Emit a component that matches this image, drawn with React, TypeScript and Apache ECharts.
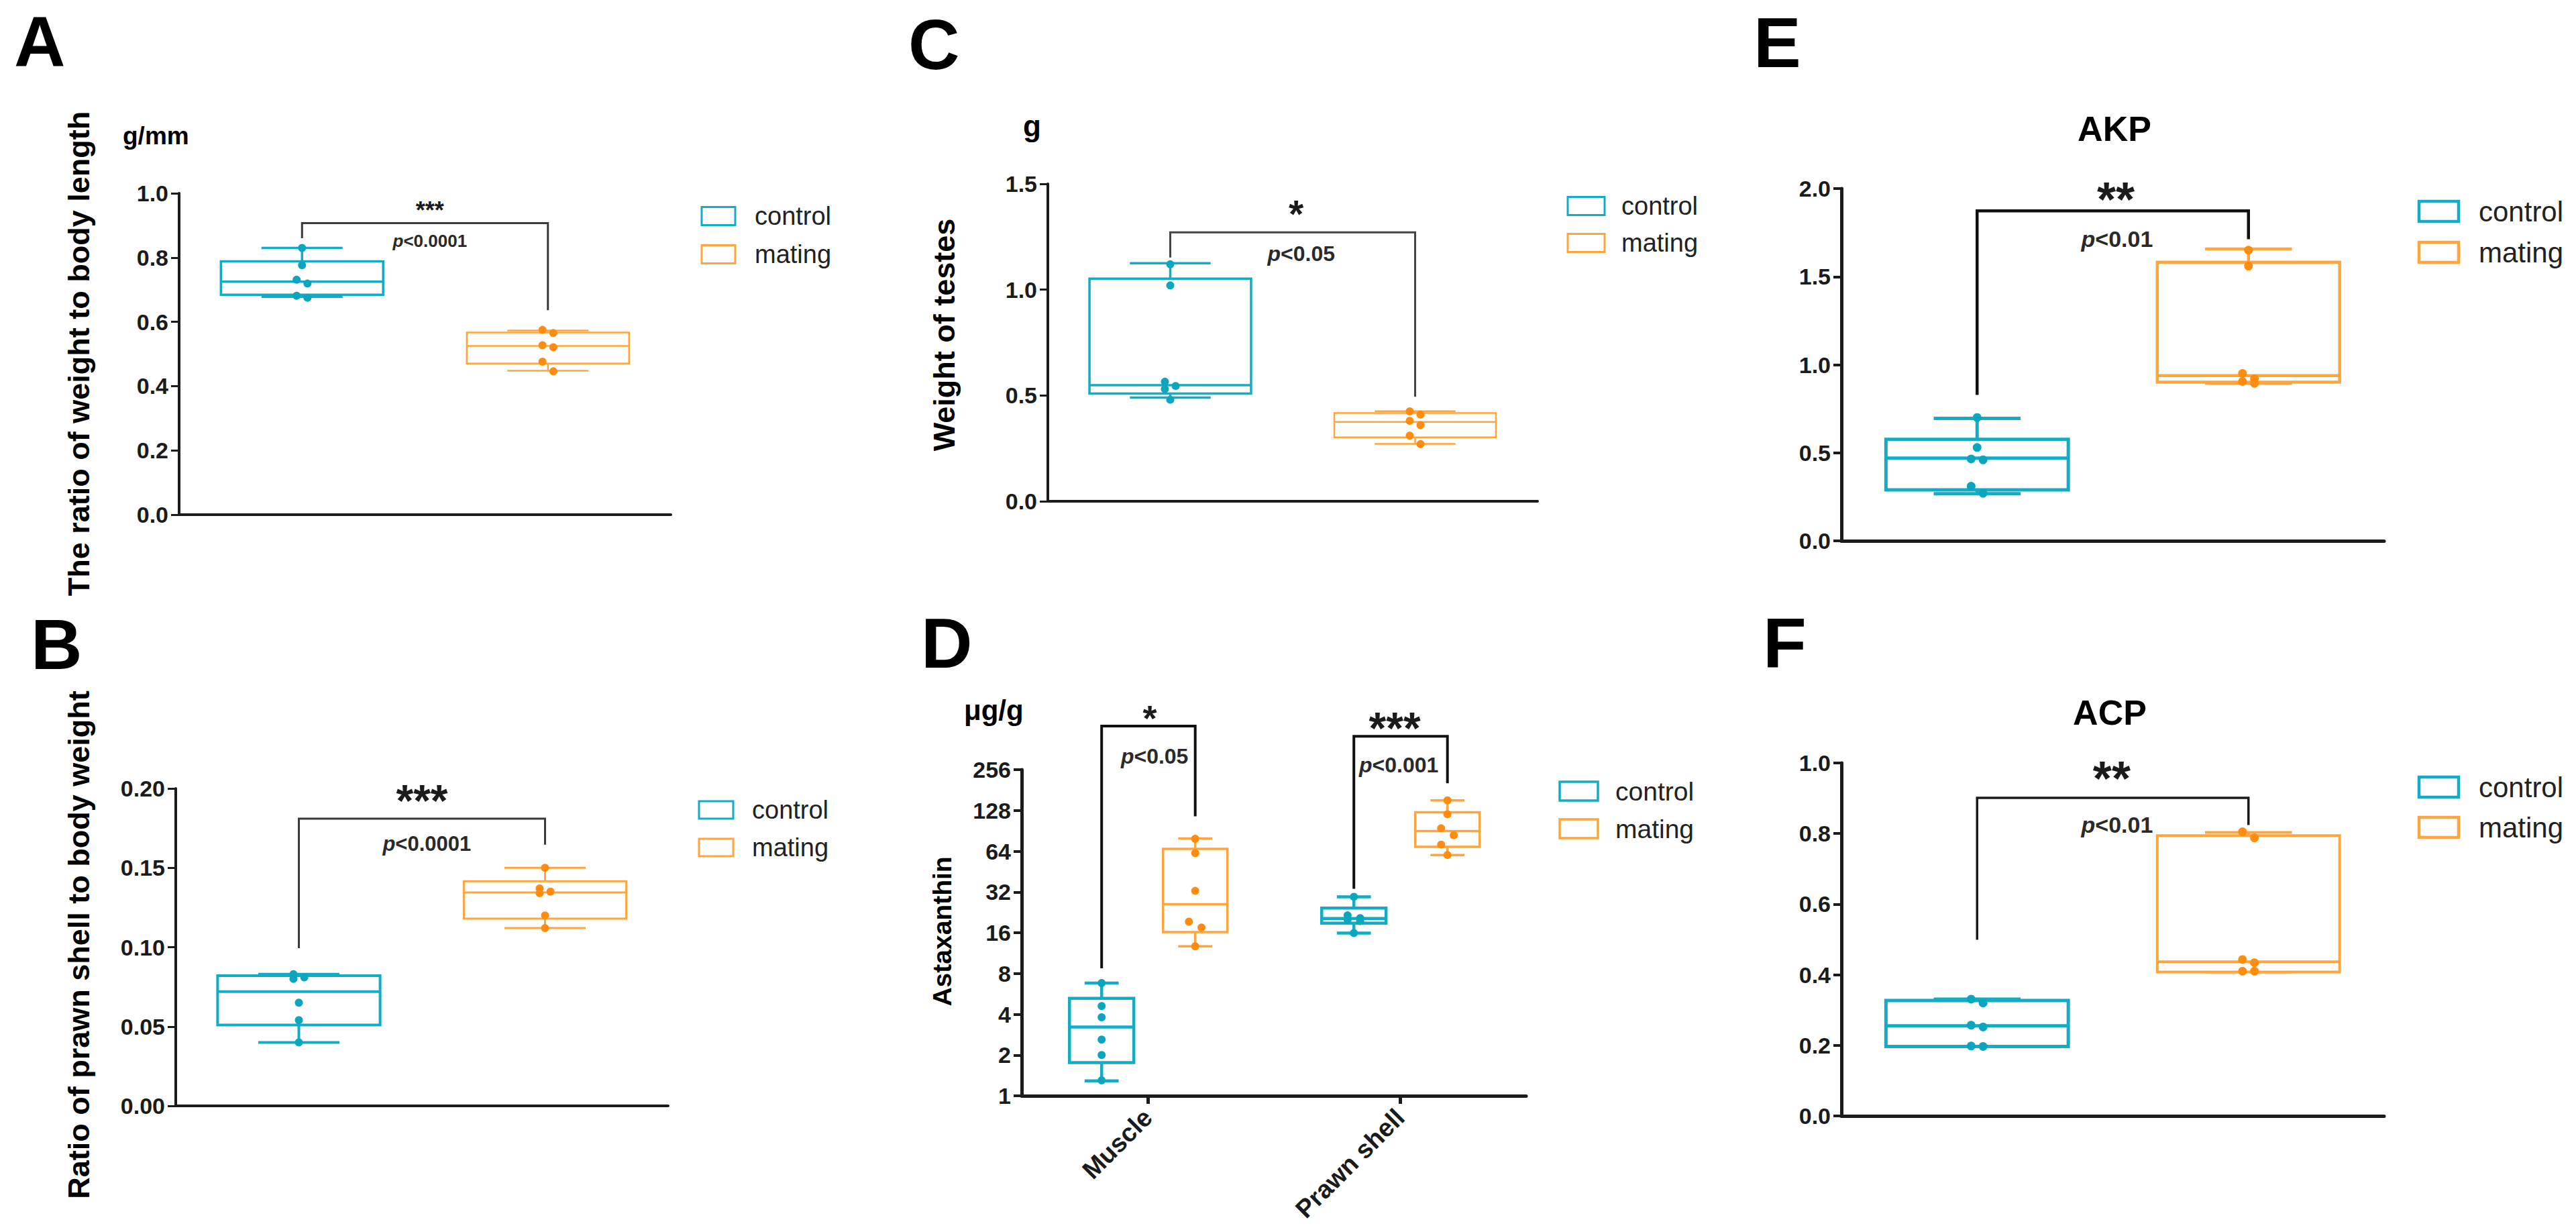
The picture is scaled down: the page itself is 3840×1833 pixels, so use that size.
import React, { useEffect, useRef } from "react";
import * as echarts from "echarts";

// ---------------- data ----------------
const GROUPS = ["control", "mating"];
const TISSUES = ["Muscle", "Prawn shell"];

// box stats are [min, Q1, median, Q3, max]
const A_CONTROL = [0.83, 0.776, 0.731, 0.719, 0.681, 0.675];
const A_MATING = [0.575, 0.565, 0.527, 0.521, 0.476, 0.446];
const A_CONTROL_BOX = [0.678, 0.684, 0.725, 0.788, 0.83];
const A_MATING_BOX = [0.448, 0.47, 0.525, 0.567, 0.573];

const B_CONTROL = [0.083, 0.081, 0.08, 0.065, 0.054, 0.04];
const B_MATING = [0.15, 0.137, 0.135, 0.134, 0.12, 0.112];
const B_CONTROL_BOX = [0.04, 0.051, 0.072, 0.082, 0.083];
const B_MATING_BOX = [0.112, 0.118, 0.1345, 0.1415, 0.15];

const C_CONTROL = [1.12, 1.02, 0.565, 0.545, 0.53, 0.48];
const C_MATING = [0.425, 0.41, 0.38, 0.36, 0.31, 0.27];
const C_CONTROL_BOX = [0.49, 0.509, 0.549, 1.052, 1.125];
const C_MATING_BOX = [0.271, 0.302, 0.375, 0.417, 0.426];

const D_CONTROL_MUSCLE = [6.8, 4.6, 3.8, 2.6, 2.0, 1.3];
const D_CONTROL_SHELL = [29.5, 21.5, 20.5, 20.0, 19.5, 15.9];
const D_MATING_MUSCLE = [79, 62, 32.6, 19.3, 17.5, 12.7];
const D_MATING_SHELL = [152, 120, 94.5, 84, 71.6, 60];
const D_CONTROL_MUSCLE_BOX = [1.29, 1.76, 3.22, 5.25, 6.79];
const D_CONTROL_SHELL_BOX = [15.9, 18.8, 20.4, 24.3, 29.5];
const D_MATING_MUSCLE_BOX = [12.7, 16.2, 26, 66.7, 79.5];
const D_MATING_SHELL_BOX = [60, 69, 90, 124, 152];

const E_CONTROL = [0.7, 0.53, 0.465, 0.46, 0.31, 0.27];
const E_MATING = [1.65, 1.56, 0.95, 0.92, 0.905, 0.894];
const E_CONTROL_BOX = [0.268, 0.29, 0.47, 0.576, 0.695];
const E_MATING_BOX = [0.894, 0.901, 0.938, 1.582, 1.657];

const F_CONTROL = [0.331, 0.32, 0.257, 0.252, 0.198, 0.197];
const F_MATING = [0.805, 0.788, 0.443, 0.434, 0.41, 0.41];
const F_CONTROL_BOX = [0.197, 0.197, 0.255, 0.327, 0.331];
const F_MATING_BOX = [0.408, 0.408, 0.437, 0.794, 0.803];

// significance brackets: [left end, top, right end]
const A_BRACKET = [0.86, 0.907, 0.636];
const B_BRACKET = [0.0994, 0.181, 0.1646];
const C_BRACKET = [1.152, 1.271, 0.494];
const D_BRACKET_MUSCLE = [8.74, 538, 116];
const D_BRACKET_SHELL = [33.8, 452, 203];
const E_BRACKET = [0.829, 1.873, 1.712];
const F_BRACKET = [0.499, 0.901, 0.824];

// significance labels: [stars, p text, stars y, p y]
const A_SIG = ["***", "<0.0001", 0.964, 0.851];
const B_SIG = ["***", "<0.0001", 0.199, 0.165];
const C_SIG = ["*", "<0.05", 1.4, 1.17];
const D_SIG_MUSCLE = ["*", "<0.05", 713, 320];
const D_SIG_SHELL = ["***", "<0.001", 620, 278];
const E_SIG = ["**", "<0.01", 2.004, 1.714];
const F_SIG = ["**", "<0.01", 0.988, 0.826];

// ---------------- styles ----------------
const FONT = "'Liberation Sans', Arial, Helvetica, sans-serif";
const INK = "#1b1b1b";
const TEAL = "#13ACC6";
const TEAL_DOT = "#0AA6C0";
const ORANGE = "#FFA53D";
const ORANGE_DOT = "#FF8B0F";
const BOX_COLORS = [TEAL, ORANGE];
const DOT_COLORS = [TEAL_DOT, ORANGE_DOT];

type Group = { x: number; g: number; box: number[]; pts: number[] };
type Sig = { x: number; y: number; text: string; kind: "star" | "p"; size: number };
type Panel = {
  grid: number[];
  yMin: number;
  yMax: number;
  yStep?: number;
  log?: boolean;
  decimals: number;
  cats: string[];
  showCats: boolean;
  groups: Group[];
  boxW: number;
  capW: number;
  lw: number[];
  axisW: number;
  dot: number;
  jitter: number;
  brackets: { xl: number; xr: number; v: number[] }[];
  bracketColor: string;
  bracketW: number;
  sigs: Sig[];
};

function sigList(x: number, sig: any[], starSize: number, pSize: number, px?: number): Sig[] {
  return [
    { x, y: sig[2], text: sig[0], kind: "star", size: starSize },
    { x: px === undefined ? x : px, y: sig[3], text: sig[1], kind: "p", size: pSize },
  ];
}

const PANELS: Panel[] = [
  {
    grid: [267, 288, 733, 479], yMin: 0, yMax: 1.0, yStep: 0.2, decimals: 1,
    cats: GROUPS, showCats: false,
    groups: [
      { x: 0, g: 0, box: A_CONTROL_BOX, pts: A_CONTROL },
      { x: 1, g: 1, box: A_MATING_BOX, pts: A_MATING },
    ],
    boxW: 0.66, capW: 0.33, lw: [3.5, 2.5], axisW: 4, dot: 12, jitter: 0.022,
    brackets: [{ xl: 0, xr: 1, v: A_BRACKET }], bracketColor: "#3a3a3a", bracketW: 3,
    sigs: sigList(0.52, A_SIG, 36, 26),
  },
  {
    grid: [262, 1175, 734, 473], yMin: 0, yMax: 0.2, yStep: 0.05, decimals: 2,
    cats: GROUPS, showCats: false,
    groups: [
      { x: 0, g: 0, box: B_CONTROL_BOX, pts: B_CONTROL },
      { x: 1, g: 1, box: B_MATING_BOX, pts: B_MATING },
    ],
    boxW: 0.66, capW: 0.33, lw: [4, 3], axisW: 4, dot: 12, jitter: 0.022,
    brackets: [{ xl: 0, xr: 1, v: B_BRACKET }], bracketColor: "#3a3a3a", bracketW: 3,
    sigs: sigList(0.5, B_SIG, 66, 31, 0.52),
  },
  {
    grid: [1562, 274, 730, 473], yMin: 0, yMax: 1.5, yStep: 0.5, decimals: 1,
    cats: GROUPS, showCats: false,
    groups: [
      { x: 0, g: 0, box: C_CONTROL_BOX, pts: C_CONTROL },
      { x: 1, g: 1, box: C_MATING_BOX, pts: C_MATING },
    ],
    boxW: 0.66, capW: 0.33, lw: [3.5, 2.5], axisW: 4, dot: 12, jitter: 0.022,
    brackets: [{ xl: 0, xr: 1, v: C_BRACKET }], bracketColor: "#444444", bracketW: 3,
    sigs: sigList(0.514, C_SIG, 57, 32, 0.535),
  },
  {
    grid: [1523, 1147, 752, 486], yMin: 1, yMax: 256, log: true, decimals: 0,
    cats: TISSUES, showCats: true,
    groups: [
      { x: -0.183, g: 0, box: D_CONTROL_MUSCLE_BOX, pts: D_CONTROL_MUSCLE },
      { x: 0.188, g: 1, box: D_MATING_MUSCLE_BOX, pts: D_MATING_MUSCLE },
      { x: 0.817, g: 0, box: D_CONTROL_SHELL_BOX, pts: D_CONTROL_SHELL },
      { x: 1.188, g: 1, box: D_MATING_SHELL_BOX, pts: D_MATING_SHELL },
    ],
    boxW: 0.255, capW: 0.135, lw: [4.5, 3.5], axisW: 5, dot: 12, jitter: 0.025,
    brackets: [
      { xl: -0.183, xr: 0.188, v: D_BRACKET_MUSCLE },
      { xl: 0.817, xr: 1.188, v: D_BRACKET_SHELL },
    ],
    bracketColor: "#111111", bracketW: 4,
    sigs: [
      ...sigList(0.008, D_SIG_MUSCLE, 54, 32, 0.027),
      ...sigList(0.979, D_SIG_SHELL, 66, 32, 0.995),
    ],
  },
  {
    grid: [2745, 281, 809, 525], yMin: 0, yMax: 2.0, yStep: 0.5, decimals: 1,
    cats: GROUPS, showCats: false,
    groups: [
      { x: 0, g: 0, box: E_CONTROL_BOX, pts: E_CONTROL },
      { x: 1, g: 1, box: E_MATING_BOX, pts: E_MATING },
    ],
    boxW: 0.672, capW: 0.32, lw: [5, 4.5], axisW: 5, dot: 13, jitter: 0.022,
    brackets: [{ xl: 0, xr: 1, v: E_BRACKET }], bracketColor: "#111111", bracketW: 4.5,
    sigs: sigList(0.511, E_SIG, 72, 34, 0.516),
  },
  {
    grid: [2745, 1137, 809, 526], yMin: 0, yMax: 1.0, yStep: 0.2, decimals: 1,
    cats: GROUPS, showCats: false,
    groups: [
      { x: 0, g: 0, box: F_CONTROL_BOX, pts: F_CONTROL },
      { x: 1, g: 1, box: F_MATING_BOX, pts: F_MATING },
    ],
    boxW: 0.672, capW: 0.32, lw: [5, 4], axisW: 5, dot: 13, jitter: 0.022,
    brackets: [{ xl: 0, xr: 1, v: F_BRACKET }], bracketColor: "#1a1a1a", bracketW: 3.5,
    sigs: sigList(0.496, F_SIG, 72, 34, 0.516),
  },
];

// layout of the decorative texts
const LETTERS = [
  { t: "A", x: 21, y: 62 }, { t: "B", x: 46, y: 960 }, { t: "C", x: 1354, y: 66 },
  { t: "D", x: 1373, y: 958 }, { t: "E", x: 2614, y: 63 }, { t: "F", x: 2628, y: 958 },
];
const Y_TITLES = [
  { t: "The ratio of weight to body length", x: 117, y: 527, s: 45 },
  { t: "Ratio of prawn shell to body weight", x: 117, y: 1408, s: 45 },
  { t: "Weight of testes", x: 1407, y: 499, s: 45 },
  { t: "Astaxanthin", x: 1404, y: 1388, s: 39 },
];
const UNITS = [
  { t: "g/mm", x: 183, y: 202, s: 37 },
  { t: "g", x: 1525, y: 187, s: 44 },
  { t: "μg/g", x: 1437, y: 1058, s: 42 },
];
const TITLES = [
  { t: "AKP", x: 3152, y: 192, s: 52 },
  { t: "ACP", x: 3145, y: 1062, s: 52 },
];
const LEGENDS = [
  { rx: 1046, tx: 1125, y1: 322, y2: 379, w: 50, h: 27, lw: 3, s: 38 },
  { rx: 1042, tx: 1121, y1: 1207, y2: 1263, w: 51, h: 26, lw: 3, s: 38 },
  { rx: 2337, tx: 2417, y1: 307, y2: 362, w: 55, h: 27, lw: 3, s: 38 },
  { rx: 2325, tx: 2408, y1: 1179, y2: 1235, w: 57, h: 28, lw: 3.5, s: 39 },
  { rx: 3606, tx: 3695, y1: 315, y2: 376, w: 59, h: 30, lw: 4.5, s: 42 },
  { rx: 3606, tx: 3695, y1: 1173, y2: 1233, w: 59, h: 30, lw: 4.5, s: 42 },
];

function spread(values: number[], toUnit: (v: number) => number, tol: number, d: number) {
  const offs = values.map(() => 0);
  for (let i = 1; i < values.length; i++) {
    if (Math.abs(toUnit(values[i]) - toUnit(values[i - 1])) < tol) {
      if (offs[i - 1] === 0) {
        offs[i - 1] = -d;
        offs[i] = d;
      } else offs[i] = -offs[i - 1];
    }
  }
  return offs;
}

function buildOption() {
  const grid: any[] = [];
  const xAxis: any[] = [];
  const yAxis: any[] = [];
  const series: any[] = [];
  const graphic: any[] = [];

  PANELS.forEach((p, k) => {
    grid.push({
      left: p.grid[0], top: p.grid[1], width: p.grid[2], height: p.grid[3],
      containLabel: false, outerBoundsMode: "none",
    });
    xAxis.push({
      type: "category", gridIndex: k, data: p.cats, boundaryGap: true, position: "bottom",
      axisLine: { show: true, onZero: false, lineStyle: { color: INK, width: p.axisW } },
      axisTick: { show: p.showCats, alignWithLabel: true, length: 12, lineStyle: { color: INK, width: p.axisW } },
      axisLabel: {
        show: p.showCats, rotate: 45, margin: 26, fontSize: 38, fontWeight: "bold",
        fontFamily: FONT, color: INK, interval: 0,
      },
      splitLine: { show: false },
    });
    xAxis.push({ type: "value", gridIndex: k, min: -0.5, max: 1.5, show: false, splitLine: { show: false } });
    const yCommon = {
      gridIndex: k, position: "left",
      axisLine: { show: true, onZero: false, lineStyle: { color: INK, width: p.axisW } },
      axisTick: { show: true, length: 12, lineStyle: { color: INK, width: p.axisW - 1 } },
      axisLabel: {
        fontSize: 34, fontWeight: "bold", fontFamily: FONT, color: INK, margin: 16,
        formatter: (v: number) => (p.log ? String(Math.round(v)) : v.toFixed(p.decimals)),
      },
      splitLine: { show: false },
    };
    if (p.log) {
      yAxis.push({ type: "log", logBase: 2, min: p.yMin, max: p.yMax, splitNumber: 8, ...yCommon });
    } else {
      yAxis.push({ type: "value", min: p.yMin, max: p.yMax, interval: p.yStep, ...yCommon });
    }

    const xi = 2 * k + 1;
    const toUnit = p.log
      ? (v: number) => Math.log2(v) / Math.log2(p.yMax / p.yMin)
      : (v: number) => v / (p.yMax - p.yMin);

    // boxes
    series.push({
      type: "custom", xAxisIndex: xi, yAxisIndex: k, clip: false, z: 2, silent: true,
      encode: { x: 0, y: 3 },
      data: p.groups.map((gr) => [gr.x, ...gr.box, gr.g]),
      renderItem: (params: any, api: any) => {
        const x = api.value(0);
        const mn = api.value(1), q1 = api.value(2), md = api.value(3), q3 = api.value(4), mx = api.value(5);
        const g = api.value(6);
        const c = BOX_COLORS[g];
        const lw = p.lw[g];
        const xl = api.coord([x - p.boxW / 2, q3])[0];
        const xr = api.coord([x + p.boxW / 2, q3])[0];
        const xc = api.coord([x, q3])[0];
        const cl = api.coord([x - p.capW / 2, q3])[0];
        const cr = api.coord([x + p.capW / 2, q3])[0];
        const y = (v: number) => api.coord([x, v])[1];
        const st = { stroke: c, lineWidth: lw, fill: "none" };
        return {
          type: "group",
          children: [
            { type: "line", shape: { x1: xc, y1: y(q3), x2: xc, y2: y(mx) }, style: st },
            { type: "line", shape: { x1: cl, y1: y(mx), x2: cr, y2: y(mx) }, style: st },
            { type: "line", shape: { x1: xc, y1: y(q1), x2: xc, y2: y(mn) }, style: st },
            { type: "line", shape: { x1: cl, y1: y(mn), x2: cr, y2: y(mn) }, style: st },
            { type: "rect", shape: { x: xl, y: y(q3), width: xr - xl, height: y(q1) - y(q3) }, style: { stroke: c, lineWidth: lw, fill: "#ffffff" } },
            { type: "line", shape: { x1: xl, y1: y(md), x2: xr, y2: y(md) }, style: st },
          ],
        };
      },
    });

    // points
    p.groups.forEach((gr) => {
      const offs = spread(gr.pts, toUnit, 0.03, p.jitter);
      series.push({
        type: "scatter", xAxisIndex: xi, yAxisIndex: k, z: 5, silent: true,
        symbol: "circle", symbolSize: p.dot,
        itemStyle: { color: DOT_COLORS[gr.g], opacity: 1 },
        data: gr.pts.map((v, i) => [gr.x + offs[i], v]),
      });
    });

    // brackets
    series.push({
      type: "custom", xAxisIndex: xi, yAxisIndex: k, clip: false, z: 3, silent: true,
      encode: { x: 0, y: 1 },
      data: p.brackets.map((b) => [b.xl, b.v[0], b.xr, b.v[1], b.v[2]]),
      renderItem: (params: any, api: any) => {
        const a = api.coord([api.value(0), api.value(1)]);
        const b = api.coord([api.value(0), api.value(3)]);
        const c = api.coord([api.value(2), api.value(3)]);
        const d = api.coord([api.value(2), api.value(4)]);
        return {
          type: "polyline",
          shape: { points: [a, b, c, d] },
          style: { stroke: p.bracketColor, lineWidth: p.bracketW, fill: "none" },
        };
      },
    });

    // significance texts
    series.push({
      type: "custom", xAxisIndex: xi, yAxisIndex: k, clip: false, z: 6, silent: true,
      encode: { x: 0, y: 1 },
      data: p.sigs.map((s) => [s.x, s.y]),
      renderItem: (params: any, api: any) => {
        const s = p.sigs[params.dataIndex];
        const pt = api.coord([api.value(0), api.value(1)]);
        if (s.kind === "star") {
          return {
            type: "text", x: pt[0], y: pt[1] + 0.235 * s.size,
            style: {
              text: s.text, fontSize: s.size, fontWeight: "bold", fontFamily: FONT,
              fill: INK, align: "center", verticalAlign: "middle",
            },
          };
        }
        return {
          type: "text", x: pt[0], y: pt[1],
          style: {
            text: "{i|p}{n|" + s.text + "}",
            fontSize: s.size, fontFamily: FONT, fontWeight: "bold", fill: "#2a2a2a",
            align: "center", verticalAlign: "middle",
            rich: {
              i: { fontStyle: "italic", fontSize: s.size, fontFamily: FONT, fontWeight: "bold", fill: "#2a2a2a" },
              n: { fontSize: s.size, fontFamily: FONT, fontWeight: "bold", fill: "#2a2a2a" },
            },
          },
        };
      },
    });
  });

  LETTERS.forEach((l) => {
    graphic.push({
      type: "text", x: l.x, y: l.y, silent: true,
      style: { text: l.t, fontSize: 106, fontWeight: "bold", fontFamily: FONT, fill: "#000", align: "left", verticalAlign: "middle" },
    });
  });
  Y_TITLES.forEach((t) => {
    graphic.push({
      type: "text", x: t.x, y: t.y, rotation: Math.PI / 2, silent: true,
      style: { text: t.t, fontSize: t.s, fontWeight: "bold", fontFamily: FONT, fill: "#000", align: "center", verticalAlign: "middle" },
    });
  });
  UNITS.forEach((t) => {
    graphic.push({
      type: "text", x: t.x, y: t.y, silent: true,
      style: { text: t.t, fontSize: t.s, fontWeight: "bold", fontFamily: FONT, fill: "#000", align: "left", verticalAlign: "middle" },
    });
  });
  TITLES.forEach((t) => {
    graphic.push({
      type: "text", x: t.x, y: t.y, silent: true,
      style: { text: t.t, fontSize: t.s, fontWeight: "bold", fontFamily: FONT, fill: "#000", align: "center", verticalAlign: "middle" },
    });
  });
  LEGENDS.forEach((lg) => {
    [lg.y1, lg.y2].forEach((yy, gi) => {
      graphic.push({
        type: "rect", silent: true,
        shape: { x: lg.rx, y: yy - lg.h / 2, width: lg.w, height: lg.h },
        style: { stroke: BOX_COLORS[gi], lineWidth: lg.lw, fill: "#ffffff" },
      });
      graphic.push({
        type: "text", x: lg.tx, y: yy, silent: true,
        style: { text: GROUPS[gi], fontSize: lg.s, fontFamily: FONT, fill: "#222", align: "left", verticalAlign: "middle" },
      });
    });
  });

  return {
    animation: false,
    backgroundColor: "#ffffff",
    grid, xAxis, yAxis, series, graphic,
  };
}

export default function App() {
  const ref = useRef<HTMLDivElement>(null);
  useEffect(() => {
    if (!ref.current) return;
    const chart = echarts.init(ref.current, null, { renderer: "svg" });
    chart.setOption(buildOption() as any);
    return () => chart.dispose();
  }, []);
  return (
    <div
      ref={ref}
      style={{ position: "fixed", left: 0, top: 0, width: "3840px", height: "1833px", background: "#fff" }}
    />
  );
}
